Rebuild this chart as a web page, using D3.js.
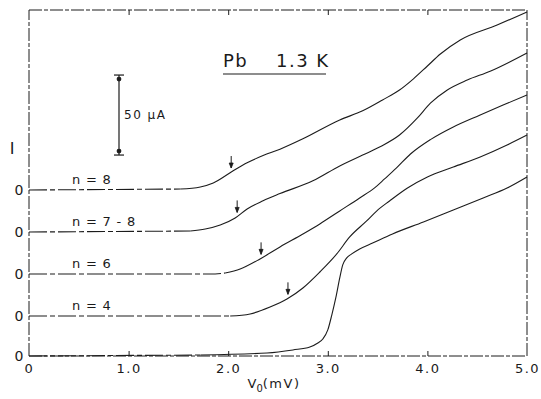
<!DOCTYPE html>
<html>
<head>
<meta charset="utf-8">
<script src="https://cdn.jsdelivr.net/npm/d3@7/dist/d3.min.js"></script>
<style>
  html, body { margin: 0; padding: 0; background: #fff; }
  svg { display: block; }
  text { font-family: "DejaVu Sans", "Liberation Sans", sans-serif; fill: #1a1a1a; }
</style>
</head>
<body>
<svg id="chart" width="541" height="399"></svg>
<script>
// Bias voltage axis (mV)
const voltageTicks = [0, 1, 2, 3, 4, 5];
const voltageTickLabels = ["0", "1.0", "2.0", "3.0", "4.0", "5.0"];

// Curve labels and vertical offsets of each trace's zero (μA)
const curveLabels = ["", "n = 4", "n = 6", "n = 7 - 8", "n = 8"];
const curveOffsets = [0, 25, 51.25, 77.5, 103.75];

// Bare junction
const vBare = [0, 1.72, 2.39, 2.65, 2.82, 2.90, 2.95, 3.00, 3.04, 3.08, 3.12, 3.15, 3.19, 3.24, 3.32, 3.45, 3.65, 3.96, 4.26, 4.56, 4.80, 5.00];
const iBare = [0, 0.6, 1.9, 3.8, 5.6, 8.1, 10.6, 16.3, 25.6, 36.3, 48.8, 56.9, 61.3, 63.8, 66.9, 70.6, 76.3, 83.8, 91.3, 98.8, 105.0, 111.9];

// n = 4
const vN4 = [0, 2.02, 2.22, 2.42, 2.59, 2.75, 2.92, 3.09, 3.22, 3.39, 3.49, 3.62, 3.80, 4.00, 4.26, 4.53, 4.80, 5.00];
const iN4 = [0, 0, 1.3, 5.6, 10.6, 17.5, 27.5, 38.8, 49.4, 59.4, 65.6, 71.9, 80.0, 86.9, 93.1, 99.4, 106.9, 113.1];

// n = 6
const vN6 = [0, 1.82, 1.97, 2.12, 2.32, 2.52, 2.75, 2.92, 3.12, 3.32, 3.47, 3.57, 3.69, 3.83, 4.03, 4.26, 4.53, 4.76, 5.00];
const iN6 = [0, 0, 0.6, 3.1, 9.4, 16.9, 25.0, 31.3, 39.4, 47.5, 53.8, 59.4, 66.3, 75.0, 84.0, 91.9, 99.4, 105.6, 111.9];

// n = 7 - 8
const vN78 = [0, 1.62, 1.77, 1.92, 2.07, 2.19, 2.35, 2.52, 2.85, 3.12, 3.35, 3.52, 3.72, 3.90, 4.03, 4.20, 4.40, 4.63, 5.00];
const iN78 = [0, 0.6, 1.9, 4.4, 8.8, 14.4, 19.5, 24.0, 32.0, 41.3, 48.1, 53.1, 60.6, 71.3, 80.5, 88.8, 95.0, 100.5, 111.9];

// n = 8
const vN8 = [0, 1.52, 1.72, 1.85, 2.05, 2.19, 2.35, 2.52, 2.75, 3.12, 3.35, 3.55, 3.72, 3.86, 4.00, 4.13, 4.33, 4.70, 5.00];
const iN8 = [0, 0.6, 1.9, 4.4, 12.0, 17.0, 21.5, 25.5, 32.0, 43.8, 49.5, 56.3, 62.5, 69.5, 77.5, 85.0, 93.8, 103.1, 111.3];

// Voltages marked with arrows on each trace (none on the bare junction)
const arrowVoltages = [null, 2.60, 2.33, 2.09, 2.03];

const curveV = [vBare, vN4, vN6, vN78, vN8];
const curveI = [iBare, iN4, iN6, iN78, iN8];

const svg = d3.select("#chart");
const ink = "#1c1c1c";

const x = d3.scaleLinear().domain([0, 5]).range([29, 527]);
const y = d3.scaleLinear().domain([0, 216.25]).range([356, 10]);

// Frame drawn in dash-dot ink
const frame = svg.append("g")
  .attr("fill", "none")
  .attr("stroke", ink)
  .attr("stroke-width", 1)
  .attr("stroke-dasharray", "13,2,4,2");
frame.append("line").attr("x1", x(0)).attr("x2", x(5)).attr("y1", y(216.25)).attr("y2", y(216.25));
frame.append("line").attr("x1", x(0)).attr("x2", x(0)).attr("y1", y(0)).attr("y2", y(216.25));
frame.append("line").attr("x1", x(5)).attr("x2", x(5)).attr("y1", y(0)).attr("y2", y(216.25));
frame.append("line").attr("x1", x(0)).attr("x2", x(5)).attr("y1", y(0)).attr("y2", y(0));

// Bottom axis: inward ticks and labels
const bottomAxis = d3.axisBottom(x)
  .tickValues(voltageTicks)
  .tickSize(-5)
  .tickPadding(8)
  .tickFormat((d, i) => voltageTickLabels[i]);
const gx = svg.append("g").attr("transform", `translate(0,${y(0)})`).call(bottomAxis);
gx.select(".domain").remove();
gx.selectAll(".tick line").attr("stroke", ink)
  .attr("opacity", d => (d === 0 || d === 5) ? 0 : 1);
gx.selectAll(".tick text").attr("font-size", 13).attr("fill", ink).attr("letter-spacing", "1.5px");

// Top axis: inward ticks only
const topAxis = d3.axisTop(x).tickValues(voltageTicks.slice(1, -1)).tickSize(-5).tickFormat("");
const gt = svg.append("g").attr("transform", `translate(0,${y(216.25)})`).call(topAxis);
gt.select(".domain").remove();
gt.selectAll(".tick line").attr("stroke", ink);

// Axis title
const xt = svg.append("text").attr("x", 274).attr("y", 388).attr("text-anchor", "middle").attr("font-size", 13);
xt.append("tspan").text("V");
xt.append("tspan").attr("font-size", 10).attr("dy", 4).text("0");
xt.append("tspan").attr("dy", -4).attr("letter-spacing", "1.5px").text("(mV)");

svg.append("text").attr("x", 12).attr("y", 154).attr("text-anchor", "middle")
  .attr("font-family", "DejaVu Serif, serif").attr("font-size", 16).text("I");

// Traces: flat zero-current stretch in dash-dot, the rest solid
const line = d3.line()
  .x(d => x(d[0]))
  .y(d => y(d[1]))
  .curve(d3.curveMonotoneX);

curveV.forEach((vs, k) => {
  const pts = vs.map((v, j) => [v, curveI[k][j] + curveOffsets[k]]);
  const flatEnd = Math.max(1, d3.max(curveI[k].map((c, j) => c < 1 ? j : 0)));
  svg.append("path")
    .attr("d", line(pts.slice(0, flatEnd + 1)))
    .attr("fill", "none")
    .attr("stroke", ink)
    .attr("stroke-width", 1.1)
    .attr("stroke-dasharray", "18,3,5,3");
  svg.append("path")
    .attr("d", line(pts.slice(flatEnd)))
    .attr("fill", "none")
    .attr("stroke", ink)
    .attr("stroke-width", 1.1);

  // Zero marker for each trace
  svg.append("text")
    .attr("x", 19).attr("y", y(curveOffsets[k]) + 5)
    .attr("text-anchor", "middle").attr("font-size", 14)
    .text("0");

  if (curveLabels[k]) {
    svg.append("text")
      .attr("x", 72).attr("y", y(curveOffsets[k]) - 6)
      .attr("font-size", 13).attr("letter-spacing", "0.8px")
      .text(curveLabels[k]);
  }

  const av = arrowVoltages[k];
  if (av !== null) {
    const iAt = d3.scaleLinear().domain(vs).range(curveI[k])(av);
    const tipY = y(iAt + curveOffsets[k]) - 4;
    const ax = x(av);
    svg.append("line")
      .attr("x1", ax).attr("x2", ax).attr("y1", tipY - 12).attr("y2", tipY)
      .attr("stroke", ink).attr("stroke-width", 1);
    svg.append("path")
      .attr("d", `M${ax - 2},${tipY - 5}L${ax},${tipY}L${ax + 2},${tipY - 5}Z`)
      .attr("fill", ink).attr("stroke", ink).attr("stroke-width", 0.8);
  }
});

// 50 μA scale bar
const barLow = 125.6, barHigh = barLow + 50;
const bx = 119;
const bar = svg.append("g").attr("stroke", ink).attr("stroke-width", 1.2);
bar.append("line").attr("x1", bx).attr("x2", bx).attr("y1", y(barLow)).attr("y2", y(barHigh));
bar.append("line").attr("x1", bx - 5).attr("x2", bx + 5).attr("y1", y(barLow)).attr("y2", y(barLow));
bar.append("line").attr("x1", bx - 5).attr("x2", bx + 5).attr("y1", y(barHigh)).attr("y2", y(barHigh));
bar.append("circle").attr("cx", bx).attr("cy", y(barHigh) + 4).attr("r", 1.8).attr("fill", ink);
bar.append("circle").attr("cx", bx).attr("cy", y(barLow) - 4).attr("r", 1.8).attr("fill", ink);
svg.append("text").attr("x", 124).attr("y", y(barLow + 25) + 4)
  .attr("font-size", 12).attr("letter-spacing", "1.5px").text("50 μA");

// Sample label
const title = svg.append("text").attr("y", 67).attr("font-size", 18).attr("letter-spacing", "1.5px");
title.append("tspan").attr("x", 223).text("Pb");
title.append("tspan").attr("x", 276).text("1.3 K");
svg.append("line").attr("x1", 223).attr("x2", 326).attr("y1", 74).attr("y2", 74)
  .attr("stroke", ink).attr("stroke-width", 1.2);
</script>
</body>
</html>
